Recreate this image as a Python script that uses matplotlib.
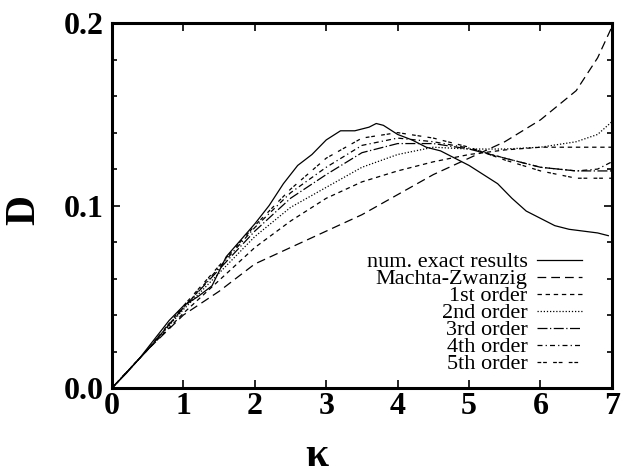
import numpy as np
import matplotlib
matplotlib.use('Agg')
import matplotlib.pyplot as plt
from matplotlib.ticker import MultipleLocator, FormatStrFormatter

plt.rcParams['font.family'] = ['Liberation Serif', 'DejaVu Serif']

# numerically exact diffusion coefficient
kappa_num = [0, 0.2, 0.4, 0.6, 0.8, 1.0, 1.2, 1.4, 1.6, 1.8, 2.0, 2.2, 2.4, 2.6,
             2.8, 3.0, 3.2, 3.4, 3.6, 3.7, 3.8, 4.0, 4.2, 4.4, 4.6, 4.8, 5.0,
             5.2, 5.4, 5.6, 5.8, 6.0, 6.2, 6.4, 6.6, 6.8, 6.95]
D_num = [0, 0.008, 0.017, 0.027, 0.037, 0.045, 0.050, 0.056, 0.072, 0.081,
         0.090, 0.100, 0.112, 0.122, 0.128, 0.136, 0.141, 0.141, 0.143, 0.145,
         0.144, 0.139, 0.136, 0.132, 0.130, 0.126, 0.122, 0.117, 0.112, 0.104,
         0.097, 0.093, 0.089, 0.087, 0.086, 0.085, 0.0835]

# Machta-Zwanzig approximation
kappa_mz = [0, 0.5, 1.0, 1.5, 2.0, 2.5, 3.0, 3.5, 4.0, 4.5, 5.0, 5.5, 6.0, 6.5, 6.8, 7.0]
D_mz = [0, 0.021, 0.040, 0.053, 0.068, 0.077, 0.086, 0.095, 0.106, 0.117,
        0.126, 0.135, 0.147, 0.163, 0.181, 0.198]

# higher order corrections
kappa_ord = [0, 0.5, 1.0, 1.5, 2.0, 2.5, 3.0, 3.5, 4.0, 4.5, 5.0, 5.5, 6.0, 6.5, 6.8, 7.0]
D_1st = [0, 0.021, 0.041, 0.059, 0.077, 0.0915, 0.104, 0.113, 0.119, 0.124,
         0.128, 0.1305, 0.132, 0.132, 0.132, 0.132]
D_2nd = [0, 0.021, 0.043, 0.063, 0.083, 0.099, 0.110, 0.121, 0.128, 0.132,
         0.131, 0.131, 0.132, 0.135, 0.139, 0.146]
D_3rd = [0, 0.021, 0.044, 0.065, 0.086, 0.104, 0.117, 0.129, 0.134, 0.134,
         0.131, 0.126, 0.121, 0.119, 0.119, 0.119]
D_4th = [0, 0.021, 0.044, 0.066, 0.088, 0.107, 0.121, 0.133, 0.137, 0.135,
         0.1315, 0.126, 0.121, 0.119, 0.120, 0.124]
D_5th = [0, 0.021, 0.045, 0.067, 0.089, 0.109, 0.126, 0.137, 0.140, 0.137,
         0.132, 0.125, 0.119, 0.115, 0.115, 0.115]

fig = plt.figure(figsize=(6.32, 4.75), dpi=100)
ax = fig.add_axes([0.1772, 0.1832, 0.791, 0.768])

lw = 0.9
ax.plot(kappa_num, D_num, 'k-', lw=lw, label='num. exact results')
ax.plot(kappa_mz, D_mz, 'k', lw=lw, dashes=(7, 4), label='Machta-Zwanzig')
ax.plot(kappa_ord, D_1st, 'k', lw=lw, dashes=(3.5, 3), label='1st order')
ax.plot(kappa_ord, D_2nd, 'k', lw=lw, dashes=(1, 1.5), label='2nd order')
ax.plot(kappa_ord, D_3rd, 'k', lw=lw, dashes=(8, 2, 1, 2), label='3rd order')
ax.plot(kappa_ord, D_4th, 'k', lw=lw, dashes=(4, 2.5, 1, 2.5), label='4th order')
ax.plot(kappa_ord, D_5th, 'k', lw=lw, dashes=(3, 1.5, 3, 5), label='5th order')

ax.set_xlim(0, 7)
ax.set_ylim(0, 0.2)
ax.xaxis.set_major_locator(MultipleLocator(1))
ax.yaxis.set_major_locator(MultipleLocator(0.1))
ax.yaxis.set_minor_locator(MultipleLocator(0.02))
ax.yaxis.set_major_formatter(FormatStrFormatter('%.1f'))

for s in ax.spines.values():
    s.set_linewidth(2.2)
ax.tick_params(which='major', direction='in', length=6, width=1.2,
               top=True, right=True, labelsize=23)
ax.tick_params(axis='y', which='major', pad=6)
ax.tick_params(axis='x', which='major', pad=3)
ax.tick_params(which='minor', direction='in', length=3.5, width=1.2, right=True)
for lab in ax.get_xticklabels() + ax.get_yticklabels():
    lab.set_fontweight('bold')

ax.set_xlabel('κ', fontsize=30, fontweight='bold')
ax.xaxis.set_label_coords(0.41, -0.135)
ax.set_ylabel('D', fontsize=30, fontweight='bold')
ax.yaxis.set_label_coords(-0.138, 0.488)

leg = ax.legend(loc='lower right', bbox_to_anchor=(0.94, 0.037), frameon=False,
                markerfirst=False, fontsize=16, handlelength=2.0,
                handletextpad=0.45, labelspacing=-0.16, borderaxespad=0,
                borderpad=0)
for t in leg.get_texts():
    t.set_ha('right')

fig.savefig('out.png', dpi=100)
